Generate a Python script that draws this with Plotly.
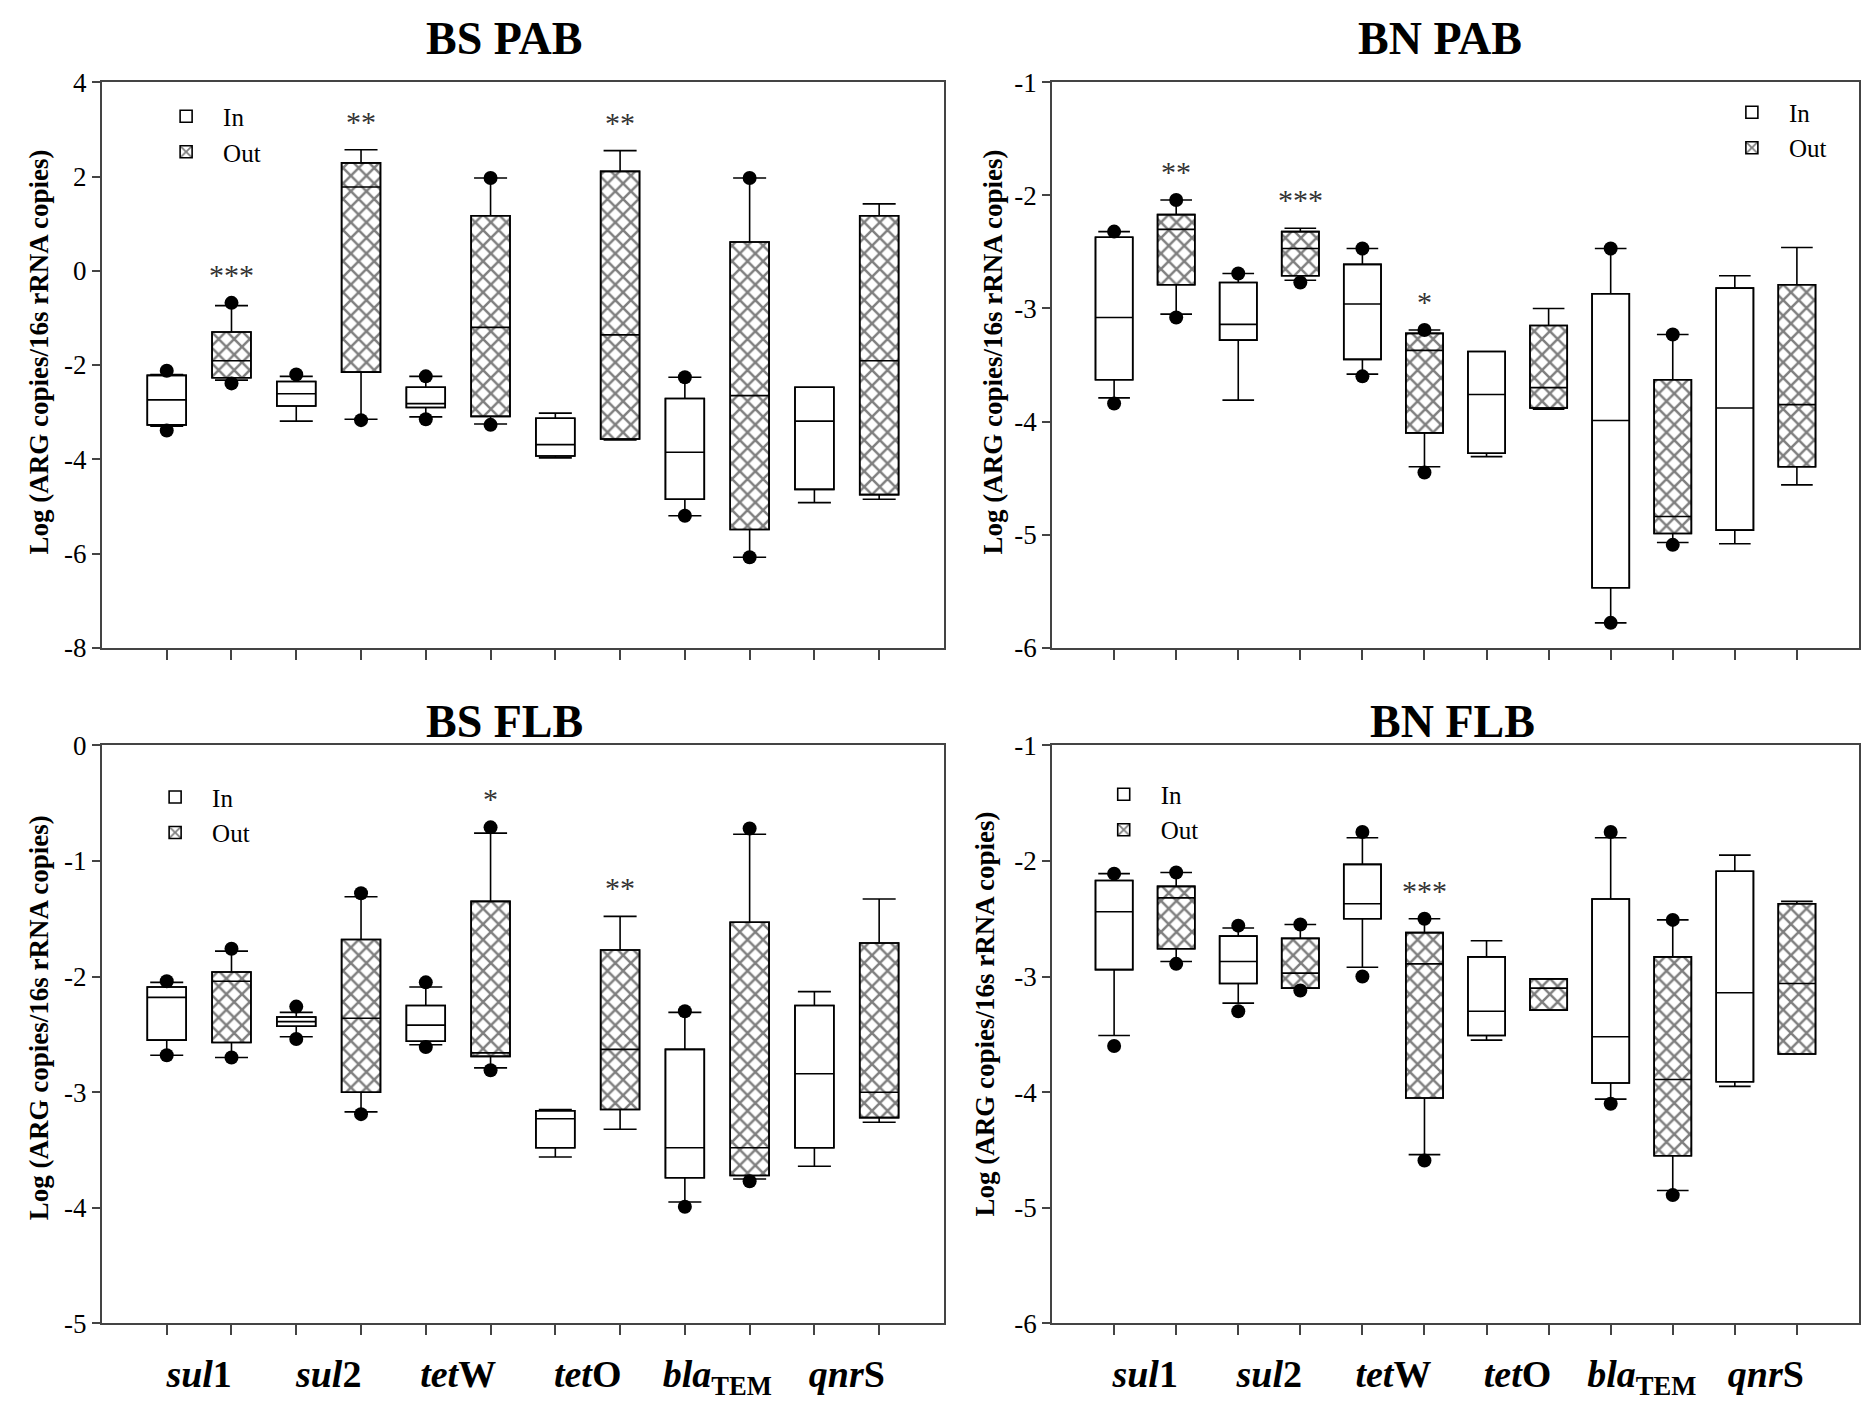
import plotly.graph_objects as go

# Gene categories, each drawn as an In / Out pair of boxes
GENE_LABELS = ["<i>sul</i>1", "<i>sul</i>2", "<i>tet</i>W", "<i>tet</i>O",
               "<i>bla</i><sub>TEM</sub>", "<i>qnr</i>S"]
GROUPS = ["In", "Out"]

# Box statistics per position 1..12 (In, Out alternating for each gene)
# lo/hi = whisker ends, q1/med/q3 = box, updot/lowdot = outlying points
BS_PAB_LO = [-3.30, -2.32, -3.19, -3.15, -3.10, -3.25, -3.97, -3.59, -5.20, -6.08, -4.92, -4.85]
BS_PAB_Q1 = [-3.27, -2.27, -2.87, -2.15, -2.90, -3.09, -3.93, -3.57, -4.85, -5.49, -4.64, -4.75]
BS_PAB_MED = [-2.74, -1.91, -2.61, 1.78, -2.82, -1.20, -3.69, -1.36, -3.85, -2.65, -3.19, -1.91]
BS_PAB_Q3 = [-2.22, -1.30, -2.35, 2.29, -2.47, 1.17, -3.13, 2.11, -2.71, 0.61, -2.47, 1.17]
BS_PAB_HI = [-2.20, -0.74, -2.24, 2.57, -2.24, 1.97, -3.02, 2.55, -2.26, 1.97, -2.47, 1.42]
BS_PAB_UPDOT = [-2.12, -0.68, -2.20, None, -2.24, 1.97, None, None, -2.26, 1.97, None, None]
BS_PAB_LOWDOT = [-3.39, -2.39, None, -3.17, -3.15, -3.27, None, None, -5.20, -6.08, None, None]
BS_PAB_SIG = ["", "***", "", "**", "", "", "", "**", "", "", "", ""]

BN_PAB_LO = [-3.79, -3.05, -3.81, -2.75, -3.58, -4.40, -4.31, -3.89, -5.78, -5.07, -5.08, -4.56]
BN_PAB_Q1 = [-3.63, -2.79, -3.28, -2.71, -3.45, -4.10, -4.28, -3.88, -5.47, -4.99, -4.96, -4.40]
BN_PAB_MED = [-3.08, -2.30, -3.14, -2.47, -2.96, -3.37, -3.76, -3.70, -3.99, -4.84, -3.88, -3.85]
BN_PAB_Q3 = [-2.37, -2.17, -2.77, -2.32, -2.61, -3.22, -3.38, -3.15, -2.87, -3.63, -2.82, -2.79]
BN_PAB_HI = [-2.32, -2.04, -2.69, -2.29, -2.47, -3.19, -3.38, -3.00, -2.47, -3.23, -2.71, -2.46]
BN_PAB_UPDOT = [-2.32, -2.04, -2.69, None, -2.47, -3.19, None, None, -2.47, -3.23, None, None]
BN_PAB_LOWDOT = [-3.84, -3.08, None, -2.77, -3.60, -4.45, None, None, -5.78, -5.09, None, None]
BN_PAB_SIG = ["", "**", "", "***", "", "*", "", "", "", "", "", ""]

BS_FLB_LO = [-2.68, -2.70, -2.52, -3.17, -2.59, -2.79, -3.56, -3.32, -3.95, -3.75, -3.64, -3.26]
BS_FLB_Q1 = [-2.55, -2.57, -2.43, -3.00, -2.56, -2.69, -3.48, -3.15, -3.74, -3.72, -3.48, -3.22]
BS_FLB_MED = [-2.18, -2.04, -2.39, -2.36, -2.42, -2.66, -3.23, -2.63, -3.48, -3.48, -2.84, -3.00]
BS_FLB_Q3 = [-2.09, -1.96, -2.35, -1.68, -2.25, -1.35, -3.16, -1.77, -2.63, -1.53, -2.25, -1.71]
BS_FLB_HI = [-2.05, -1.78, -2.31, -1.31, -2.09, -0.76, -3.15, -1.48, -2.31, -0.77, -2.13, -1.33]
BS_FLB_UPDOT = [-2.04, -1.76, -2.26, -1.28, -2.05, -0.71, None, None, -2.30, -0.72, None, None]
BS_FLB_LOWDOT = [-2.68, -2.70, -2.54, -3.19, -2.61, -2.81, None, None, -3.99, -3.77, None, None]
BS_FLB_SIG = ["", "", "", "", "", "*", "", "**", "", "", "", ""]

BN_FLB_LO = [-3.51, -2.87, -3.23, -3.10, -2.92, -4.54, -3.55, -3.29, -4.06, -4.85, -3.95, -3.67]
BN_FLB_Q1 = [-2.94, -2.76, -3.06, -3.10, -2.50, -4.05, -3.51, -3.29, -3.92, -4.55, -3.91, -3.67]
BN_FLB_MED = [-2.44, -2.32, -2.87, -2.97, -2.37, -2.89, -3.30, -3.10, -3.52, -3.89, -3.14, -3.06]
BN_FLB_Q3 = [-2.17, -2.22, -2.65, -2.67, -2.03, -2.62, -2.83, -3.02, -2.33, -2.83, -2.09, -2.37]
BN_FLB_HI = [-2.11, -2.10, -2.58, -2.55, -1.80, -2.50, -2.69, -3.02, -1.80, -2.51, -1.95, -2.35]
BN_FLB_UPDOT = [-2.11, -2.10, -2.56, -2.55, -1.75, -2.50, None, None, -1.75, -2.51, None, None]
BN_FLB_LOWDOT = [-3.60, -2.89, -3.30, -3.12, -3.00, -4.59, None, None, -4.10, -4.89, None, None]
BN_FLB_SIG = ["", "", "", "", "", "***", "", "", "", "", "", ""]

# Y-axis ticks for each panel
BS_PAB_YTICKS = [4, 2, 0, -2, -4, -6, -8]
BN_PAB_YTICKS = [-1, -2, -3, -4, -5, -6]
BS_FLB_YTICKS = [0, -1, -2, -3, -4, -5]
BN_FLB_YTICKS = [-1, -2, -3, -4, -5, -6]

FONT = "Liberation Serif"
YTITLE = "Log (ARG copies/16s rRNA copies)"

panels = [
    dict(title="BS PAB", ax="", lo=BS_PAB_LO, q1=BS_PAB_Q1, med=BS_PAB_MED, q3=BS_PAB_Q3,
         hi=BS_PAB_HI, up=BS_PAB_UPDOT, low=BS_PAB_LOWDOT, sig=BS_PAB_SIG, yt=BS_PAB_YTICKS,
         xd=[0.0547, 0.5064], yd=[0.5368, 0.9507], tx=0.2704, ty=0.9825,
         ytx=0.0209, yty=0.7537, leg=dict(x=0.0800, y=0.9425), labels=False),
    dict(title="BN PAB", ax="2", lo=BN_PAB_LO, q1=BN_PAB_Q1, med=BN_PAB_MED, q3=BN_PAB_Q3,
         hi=BN_PAB_HI, up=BN_PAB_UPDOT, low=BN_PAB_LOWDOT, sig=BN_PAB_SIG, yt=BN_PAB_YTICKS,
         xd=[0.5644, 0.9973], yd=[0.5368, 0.9507], tx=0.7725, ty=0.9825,
         ytx=0.5327, yty=0.7537, leg=dict(x=0.9200, y=0.9455), labels=False),
    dict(title="BS FLB", ax="3", lo=BS_FLB_LO, q1=BS_FLB_Q1, med=BS_FLB_MED, q3=BS_FLB_Q3,
         hi=BS_FLB_HI, up=BS_FLB_UPDOT, low=BS_FLB_LOWDOT, sig=BS_FLB_SIG, yt=BS_FLB_YTICKS,
         xd=[0.0547, 0.5064], yd=[0.0421, 0.4654], tx=0.2704, ty=0.4825,
         ytx=0.0209, yty=0.2662, leg=dict(x=0.0741, y=0.4442), labels=True),
    dict(title="BN FLB", ax="4", lo=BN_FLB_LO, q1=BN_FLB_Q1, med=BN_FLB_MED, q3=BN_FLB_Q3,
         hi=BN_FLB_HI, up=BN_FLB_UPDOT, low=BN_FLB_LOWDOT, sig=BN_FLB_SIG, yt=BN_FLB_YTICKS,
         xd=[0.5644, 0.9973], yd=[0.0421, 0.4654], tx=0.7795, ty=0.4825,
         ytx=0.5285, yty=0.2684, leg=dict(x=0.5830, y=0.4462), labels=True),
]

positions = list(range(1, 2 * len(GENE_LABELS) + 1))
gene_centers = [positions[2 * i] + 0.5 for i in range(len(GENE_LABELS))]

hatch = dict(shape="x", size=11, solidity=0.4, fgcolor="black", bgcolor="white")

fig = go.Figure()
annotations = []
layout = {}

for k, p in enumerate(panels):
    xa, ya = "x" + p["ax"], "y" + p["ax"]
    legname = "legend" + p["ax"]
    for g, group in enumerate(GROUPS):
        idx = [i for i in range(len(positions)) if i % 2 == g]
        xs = [positions[i] for i in idx]
        q1 = [p["q1"][i] for i in idx]
        q3 = [p["q3"][i] for i in idx]
        marker = dict(color="white", line=dict(color="black", width=1.6))
        if group == "Out":
            marker["pattern"] = hatch
        fig.add_trace(go.Bar(
            x=xs, y=[b - a for a, b in zip(q1, q3)], base=q1, width=0.6,
            marker=marker, name=group, legend=legname, xaxis=xa, yaxis=ya,
            hoverinfo="skip"))
        fig.add_trace(go.Box(
            x=xs, q1=q1, median=[p["med"][i] for i in idx], q3=q3,
            lowerfence=[p["lo"][i] for i in idx], upperfence=[p["hi"][i] for i in idx],
            width=0.6, whiskerwidth=0.85, boxpoints=False,
            fillcolor="rgba(0,0,0,0)", line=dict(color="black", width=1.6),
            showlegend=False, xaxis=xa, yaxis=ya, hoverinfo="skip"))
    # outlying points
    dx, dy = [], []
    for i, x in enumerate(positions):
        for v in (p["up"][i], p["low"][i]):
            if v is not None:
                dx.append(x)
                dy.append(v)
    fig.add_trace(go.Scatter(
        x=dx, y=dy, mode="markers", marker=dict(color="black", size=14),
        showlegend=False, xaxis=xa, yaxis=ya, hoverinfo="skip"))
    # significance marks above each box
    for i, s in enumerate(p["sig"]):
        if s:
            top = max(v for v in (p["hi"][i], p["up"][i]) if v is not None)
            annotations.append(dict(
                x=positions[i], y=top, xref=xa, yref=ya, text=s, showarrow=False,
                yanchor="bottom", yshift=10, font=dict(family=FONT, size=30, color="#333")))
    # panel title
    annotations.append(dict(
        x=p["tx"], y=p["ty"], xref="paper", yref="paper", text=p["title"], showarrow=False,
        xanchor="center", yanchor="middle",
        font=dict(family=FONT, size=46, color="black", weight="bold")))
    # y-axis title
    annotations.append(dict(
        x=p["ytx"], y=p["yty"], xref="paper", yref="paper", text=YTITLE, showarrow=False,
        textangle=-90, xanchor="center", yanchor="middle",
        font=dict(family=FONT, size=27, color="black", weight="bold")))

    yt = p["yt"]
    key = p["ax"]
    layout["xaxis" + key] = dict(
        domain=p["xd"], anchor=ya, range=[0, len(positions) + 1],
        tickmode="array", tickvals=gene_centers,
        ticktext=["<b>%s</b>" % t for t in GENE_LABELS],
        showticklabels=p["labels"], ticks="", ticklabelstandoff=16,
        tickfont=dict(family=FONT, size=38, color="black"),
        minor=dict(tickmode="array", tickvals=positions, ticks="outside",
                   ticklen=10, tickwidth=1.5, tickcolor="#444"),
        showline=True, mirror=True, linecolor="#444", linewidth=2,
        showgrid=False, zeroline=False, fixedrange=True)
    layout["yaxis" + key] = dict(
        domain=p["yd"], anchor=xa, range=[min(yt), max(yt)],
        tickmode="array", tickvals=yt, ticktext=[str(v) for v in yt],
        ticks="outside", ticklen=8, tickwidth=1.5, tickcolor="#444",
        tickfont=dict(family=FONT, size=27, color="black"),
        showline=True, mirror=True, linecolor="#444", linewidth=2,
        showgrid=False, zeroline=False, fixedrange=True)
    layout[legname] = dict(
        x=p["leg"]["x"], y=p["leg"]["y"], xanchor="left", yanchor="top",
        bgcolor="rgba(0,0,0,0)", font=dict(family=FONT, size=25, color="black"),
        itemwidth=64, tracegroupgap=0, traceorder="normal")

fig.update_layout(
    width=1864, height=1401, margin=dict(l=0, r=0, t=0, b=0),
    paper_bgcolor="white", plot_bgcolor="white",
    barmode="overlay", boxmode="overlay", showlegend=True,
    annotations=annotations, hovermode=False, **layout)

fig.write_html("out.html")
